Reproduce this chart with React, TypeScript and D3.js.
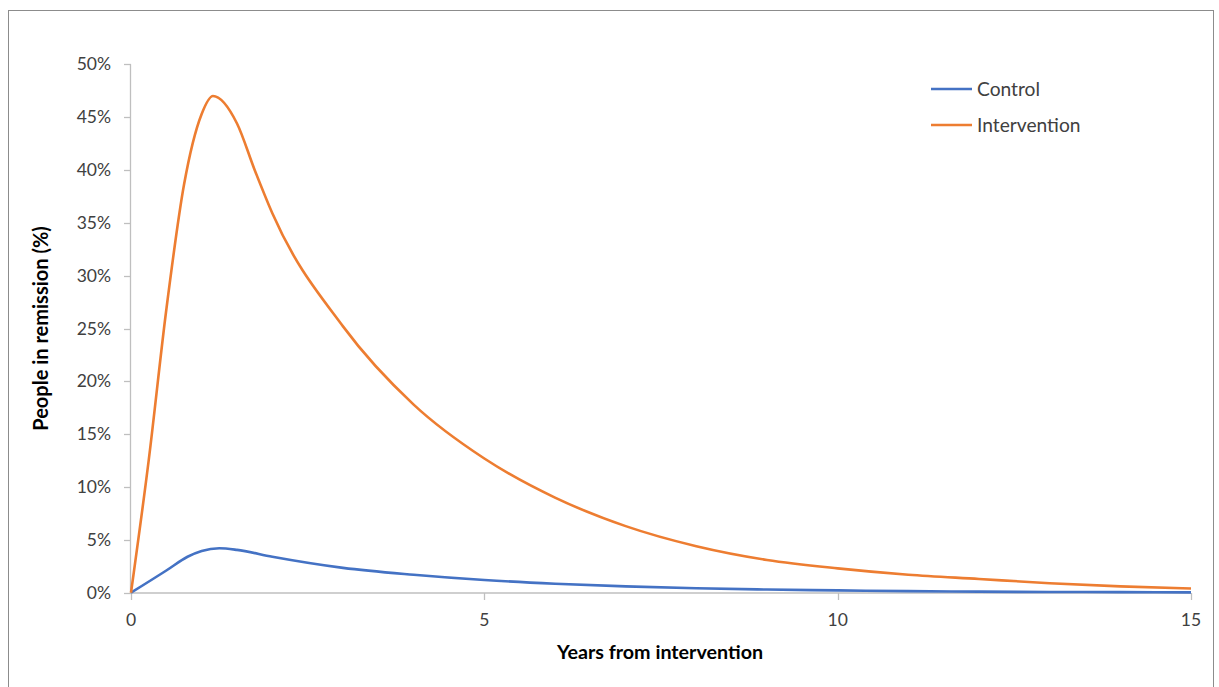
import React from "react";
import * as d3 from "d3";

const years = [0, 0.25, 0.5, 0.75, 1, 1.16, 1.5, 1.75, 2, 3, 4, 5, 6, 7, 8, 9, 10, 11, 12, 13, 14, 15];
const intervention = [0, 12.5, 26.8, 38.6, 45.3, 47.0, 44.4, 40.0, 35.9, 25.2, 17.8, 12.7, 9.0, 6.3, 4.4, 3.1, 2.3, 1.7, 1.3, 0.9, 0.6, 0.4];
const controlYears = [0, 0.5, 0.8, 1, 1.25, 1.5, 2, 3, 4, 5, 6, 7, 8, 9, 10, 11, 12, 13, 14, 15];
const control = [0, 2.1, 3.4, 3.95, 4.2, 4.05, 3.4, 2.35, 1.7, 1.2, 0.85, 0.6, 0.42, 0.3, 0.22, 0.15, 0.1, 0.07, 0.05, 0.03];
const yTicks = [0, 5, 10, 15, 20, 25, 30, 35, 40, 45, 50];
const xTicks = [0, 5, 10, 15];
const seriesNames = ["Control", "Intervention"];
const colors = ["#4472C4", "#ED7D31"];

export default function App() {
  const x = d3.scaleLinear().domain([0, 15]).range([131, 1191]);
  const y = d3.scaleLinear().domain([0, 50]).range([592.7, 64.3]);
  const line = d3
    .line<[number, number]>()
    .x((d) => x(d[0]))
    .y((d) => y(d[1]))
    .curve(d3.curveMonotoneX);
  const ctrlPts: [number, number][] = controlYears.map((t, i) => [t, control[i]]);
  const intPts: [number, number][] = years.map((t, i) => [t, intervention[i]]);
  const font = "Lato, sans-serif";
  const axisColor = "#BFBFBF";
  return (
    <svg
      width={1219}
      height={687}
      style={{ position: "absolute", left: 0, top: 0, fontFamily: font }}
    >
      <rect x={0} y={0} width={1219} height={687} fill="#fff" />
      <rect x={8.5} y={10.5} width={1205} height={700} fill="#fff" stroke="#8C8C8C" strokeWidth={1} />
      <line x1={130.5} x2={130.5} y1={y(50)} y2={y(0)} stroke={axisColor} strokeWidth={1.3} />
      {yTicks.map((t) => (
        <g key={"y" + t}>
          <line x1={124} x2={131} y1={Math.round(y(t)) + 0.5} y2={Math.round(y(t)) + 0.5} stroke={axisColor} strokeWidth={1.3} />
          <text x={111} y={y(t)} dy="0.35em" textAnchor="end" fontSize={17.5} fill="#404040">
            {t + "%"}
          </text>
        </g>
      ))}
      <line x1={x(0)} x2={x(15)} y1={593} y2={593} stroke={axisColor} strokeWidth={1.3} />
      {xTicks.map((t) => (
        <g key={"x" + t}>
          <line x1={Math.round(x(t)) + 0.5} x2={Math.round(x(t)) + 0.5} y1={593} y2={600} stroke={axisColor} strokeWidth={1.3} />
          <text x={x(t)} y={620} dy="0.35em" textAnchor="middle" fontSize={17.5} fill="#404040">
            {t}
          </text>
        </g>
      ))}
      <path d={line(ctrlPts) || ""} fill="none" stroke={colors[0]} strokeWidth={2.6} />
      <path d={line(intPts) || ""} fill="none" stroke={colors[1]} strokeWidth={2.6} />
      {seriesNames.map((n, i) => (
        <g key={n}>
          <line x1={931} x2={972} y1={89 + i * 36} y2={89 + i * 36} stroke={colors[i]} strokeWidth={2.6} />
          <text x={977} y={89 + i * 36} dy="0.35em" fontSize={19.2} fill="#404040">
            {n}
          </text>
        </g>
      ))}
      <text x={660} y={652} dy="0.35em" textAnchor="middle" fontSize={19.7} fontWeight="bold" fill="#000">
        Years from intervention
      </text>
      <text
        transform={`translate(41, ${y(25)}) rotate(-90)`}
        dy="0.35em"
        textAnchor="middle"
        fontSize={20}
        fontWeight="bold"
        fill="#000"
      >
        People in remission (%)
      </text>
    </svg>
  );
}
